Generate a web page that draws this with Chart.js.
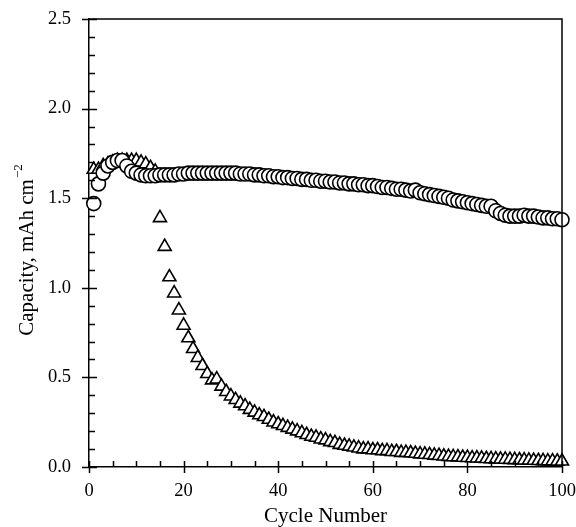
<!DOCTYPE html>
<html>
<head>
<meta charset="utf-8">
<script src="https://cdn.jsdelivr.net/npm/chart.js@4.4.0/dist/chart.umd.min.js"></script>
<style>
  body { margin: 0; background: #fff; }
  #grafico { display: block; }
</style>
</head>
<body>
<canvas id="grafico" width="576" height="527"></canvas>
<script>
// numero do ciclo
const ciclos = [
  1, 2, 3, 4, 5, 6, 7, 8, 9, 10,
  11, 12, 13, 14, 15, 16, 17, 18, 19, 20,
  21, 22, 23, 24, 25, 26, 27, 28, 29, 30,
  31, 32, 33, 34, 35, 36, 37, 38, 39, 40,
  41, 42, 43, 44, 45, 46, 47, 48, 49, 50,
  51, 52, 53, 54, 55, 56, 57, 58, 59, 60,
  61, 62, 63, 64, 65, 66, 67, 68, 69, 70,
  71, 72, 73, 74, 75, 76, 77, 78, 79, 80,
  81, 82, 83, 84, 85, 86, 87, 88, 89, 90,
  91, 92, 93, 94, 95, 96, 97, 98, 99, 100
];

// capacidade - circulos
const capacidadeCirculo = [
  1.47, 1.58, 1.64, 1.68, 1.70, 1.71, 1.71, 1.68, 1.65, 1.64,
  1.63, 1.625, 1.625, 1.625, 1.63, 1.63, 1.63, 1.63, 1.635, 1.635,
  1.64, 1.64, 1.64, 1.64, 1.64, 1.64, 1.64, 1.64, 1.64, 1.64,
  1.64, 1.635, 1.635, 1.635, 1.63, 1.63, 1.625, 1.625, 1.62, 1.62,
  1.615, 1.615, 1.61, 1.61, 1.605, 1.605, 1.60, 1.60, 1.595, 1.595,
  1.59, 1.59, 1.585, 1.585, 1.58, 1.58, 1.575, 1.575, 1.57, 1.57,
  1.565, 1.56, 1.56, 1.555, 1.55, 1.55, 1.545, 1.54, 1.545, 1.53,
  1.525, 1.52, 1.515, 1.51, 1.505, 1.50, 1.49, 1.485, 1.48, 1.475,
  1.47, 1.465, 1.46, 1.455, 1.455, 1.43, 1.415, 1.405, 1.40, 1.40,
  1.40, 1.405, 1.40, 1.40, 1.395, 1.39, 1.39, 1.385, 1.385, 1.38
];

// capacidade - triangulos
const capacidadeTriangulo = [
  1.66, 1.66, 1.68, 1.69, 1.70, 1.71, 1.71, 1.71, 1.71, 1.71,
  1.70, 1.69, 1.67, 1.65, 1.39, 1.23, 1.06, 0.97, 0.875, 0.79,
  0.72, 0.66, 0.61, 0.565, 0.52, 0.485, 0.49, 0.45, 0.42, 0.395,
  0.375, 0.355, 0.34, 0.32, 0.305, 0.29, 0.28, 0.265, 0.25, 0.24,
  0.23, 0.22, 0.21, 0.20, 0.19, 0.18, 0.17, 0.165, 0.155, 0.15,
  0.14, 0.135, 0.125, 0.12, 0.115, 0.11, 0.105, 0.10, 0.10, 0.095,
  0.095, 0.09, 0.09, 0.085, 0.085, 0.08, 0.08, 0.078, 0.075, 0.072,
  0.07, 0.068, 0.065, 0.063, 0.06, 0.058, 0.056, 0.055, 0.053, 0.052,
  0.05, 0.049, 0.048, 0.046, 0.045, 0.044, 0.043, 0.042, 0.041, 0.04,
  0.039, 0.038, 0.037, 0.036, 0.035, 0.034, 0.033, 0.033, 0.032, 0.032
];

// ticks dos eixos
const ticksY = [0, 0.5, 1.0, 1.5, 2.0, 2.5];
const ticksX = [0, 20, 40, 60, 80, 100];
const tituloX = 'Cycle Number';
const tituloY = 'Capacity, mAh cm';
const tituloYExpoente = '\u22122';

const fonte = '"Liberation Serif", "Times New Roman", serif';

function montarPontos(valores) {
  let pontos = [];
  for (let i = 0; i < ciclos.length; i++) {
    pontos.push({ x: ciclos[i], y: valores[i] });
  }
  return pontos;
}

// desenha moldura, ticks cruzando o eixo e titulo Y com expoente
const molduraPlugin = {
  id: 'moldura',
  afterDraw(chart) {
    const ctx = chart.ctx;
    const area = chart.chartArea;
    const x = chart.scales.x;
    const y = chart.scales.y;
    ctx.save();
    ctx.strokeStyle = '#000';

    // topo e direita
    ctx.lineWidth = 1.5;
    ctx.beginPath();
    ctx.moveTo(area.left, area.top);
    ctx.lineTo(area.right, area.top);
    ctx.lineTo(area.right, area.bottom);
    ctx.stroke();

    ctx.lineWidth = 1.5;
    ctx.beginPath();
    // eixo y: menores a cada 0.1
    for (let v = 0; v <= 25; v++) {
      const py = Math.round(y.getPixelForValue(v / 10)) + 0.5;
      if (v % 5 === 0) {
        ctx.moveTo(area.left - 7, py);
        ctx.lineTo(area.left + 8, py);
      } else {
        ctx.moveTo(area.left, py);
        ctx.lineTo(area.left + 6, py);
      }
    }
    // eixo x: menores a cada 5
    for (let v = 0; v <= 100; v += 5) {
      const px = Math.round(x.getPixelForValue(v)) + 0.5;
      if (v % 20 === 0) {
        ctx.moveTo(px, area.bottom + 6);
        ctx.lineTo(px, area.bottom - 6);
      } else {
        ctx.moveTo(px, area.bottom);
        ctx.lineTo(px, area.bottom - 6);
      }
    }
    ctx.stroke();

    // titulo do eixo Y
    ctx.fillStyle = '#000';
    ctx.font = '21px ' + fonte;
    const w1 = ctx.measureText(tituloY).width;
    ctx.font = '13px ' + fonte;
    const w2 = ctx.measureText(tituloYExpoente).width;
    const total = w1 + w2 + 1;
    ctx.translate(27, (area.top + area.bottom) / 2 + 7);
    ctx.rotate(-Math.PI / 2);
    ctx.textBaseline = 'middle';
    ctx.textAlign = 'left';
    ctx.font = '21px ' + fonte;
    ctx.fillText(tituloY, -total / 2, 0);
    ctx.font = '13px ' + fonte;
    ctx.fillText(tituloYExpoente, -total / 2 + w1 + 1, -8);
    ctx.restore();
  }
};

const ctx = document.getElementById('grafico');

const config = {
  type: 'scatter',
  data: {
    datasets: [
      {
        label: 'circulo',
        data: montarPontos(capacidadeCirculo),
        pointStyle: 'circle',
        pointRadius: 7,
        pointBorderWidth: 1.6,
        pointBorderColor: '#000',
        pointBackgroundColor: '#fff',
        showLine: false,
        clip: false,
        order: 0
      },
      {
        label: 'triangulo',
        data: montarPontos(capacidadeTriangulo),
        pointStyle: 'triangle',
        pointRadius: 7.5,
        pointBorderWidth: 1.6,
        pointBorderColor: '#000',
        pointBackgroundColor: '#fff',
        showLine: false,
        clip: false,
        order: 1
      }
    ]
  },
  options: {
    responsive: false,
    animation: false,
    events: [],
    layout: { padding: { top: 19, right: 14, left: 0, bottom: 0 } },
    plugins: {
      legend: { display: false },
      tooltip: { enabled: false }
    },
    scales: {
      x: {
        type: 'linear',
        min: 0,
        max: 100,
        afterFit(scale) {
          scale.height = 60;
          scale.paddingLeft = 0;
          scale.paddingRight = 0;
        },
        afterBuildTicks(scale) { scale.ticks = ticksX.map(v => ({ value: v })); },
        grid: { display: false, drawTicks: false },
        border: { display: true, color: '#000', width: 1.5 },
        ticks: {
          padding: 13,
          color: '#000',
          font: { family: fonte, size: 18.5 },
          maxRotation: 0
        },
        title: {
          display: true,
          text: tituloX,
          color: '#000',
          font: { family: fonte, size: 21, lineHeight: 1.0 },
          padding: { top: 0, bottom: 0 }
        }
      },
      y: {
        type: 'linear',
        min: 0,
        max: 2.5,
        afterFit(scale) {
          scale.width = 89;
          scale.paddingTop = 0;
          scale.paddingBottom = 0;
        },
        afterBuildTicks(scale) { scale.ticks = ticksY.map(v => ({ value: v })); },
        grid: { display: false, drawTicks: false },
        border: { display: true, color: '#000', width: 1.5 },
        ticks: {
          padding: 18,
          color: '#000',
          font: { family: fonte, size: 18.5 },
          callback: function (v) { return Number(v).toFixed(1); }
        }
      }
    }
  },
  plugins: [molduraPlugin]
};

const grafico = new Chart(ctx, config);
</script>
</body>
</html>
